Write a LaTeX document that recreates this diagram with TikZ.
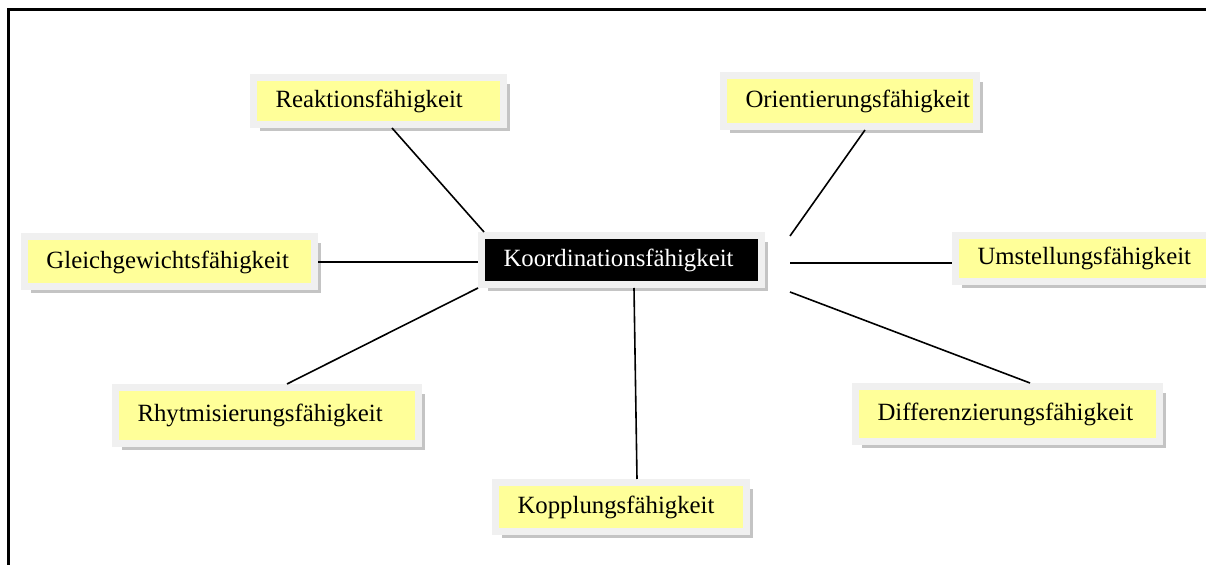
\documentclass[tikz,border=0pt]{standalone}
\usepackage{fontspec}
\setmainfont{Liberation Serif}
\usetikzlibrary{shadows, positioning}

\definecolor{boxyellow}{HTML}{FFFF99}
\definecolor{boxframe}{HTML}{F0F0F0}
\definecolor{boxshadow}{HTML}{C4C4C4}

\begin{document}
\begin{tikzpicture}[x=0.5pt, y=-0.5pt,
	skill/.style={rectangle, anchor=west, draw=boxframe, line width=3.5pt, fill=boxyellow,
		inner xsep=11pt, align=left, font=\fontsize{12.4}{14}\selectfont,
		drop shadow={shadow xshift=3.25pt, shadow yshift=-3.25pt, fill=boxshadow, opacity=1}},
	core/.style={skill, fill=black, text=white},
	link/.style={line width=0.8pt}]
	\useasboundingbox (0,0) rectangle (1206,565);
	\draw[line width=1.5pt] (8,565) -- (8,10) -- (1206,10);

	\node[core, text width=118pt, minimum height=24.5pt] 	(koord) at (478,260) {Koordinationsfähigkeit};
	\node[skill, text width=103pt, minimum height=23.5pt] 	(reak) 	at (250,101) {Reaktionsfähigkeit};
	\node[skill, text width=104.5pt, minimum height=25.5pt] (orie) 	at (720,101) {Orientierungsfähigkeit};
	\node[skill, text width=123pt, minimum height=25pt] 	(glei) 	at (21,262) {Gleichgewichtsfähigkeit};
	\node[skill, text width=109.5pt, minimum height=23pt] 	(umst) 	at (952,258.5) {Umstellungsfähigkeit};
	\node[skill, text width=129.5pt, minimum height=28pt] 	(rhyt) 	at (112,415.5) {Rhytmisierungsfähigkeit};
	\node[skill, text width=130pt, minimum height=27.5pt] 	(diff) 	at (852,414) {Differenzierungsfähigkeit};
	\node[skill, text width=103.5pt, minimum height=24.5pt] (kopp) 	at (492,507) {Kopplungsfähigkeit};

	% free ends right of the centre box
	\coordinate (hub-ne) at ([xshift=12.5pt, yshift=-2pt]koord.north east);
	\coordinate (hub-e) 	at ([xshift=12.5pt, yshift=-1.5pt]koord.east);
	\coordinate (hub-se) at ([xshift=12.5pt, yshift=-2pt]koord.south east);

	\draw[link] ([xshift=6.75pt]reak.south) -- ([xshift=3pt]koord.north west);
	\draw[link] ([xshift=7.5pt]orie.south) 	-- (hub-ne);
	\draw[link] (glei.east) 								-- (glei.east -| koord.west);
	\draw[link] (hub-e) 										-- ([yshift=-2.25pt]umst.west);
	\draw[link] ([xshift=10pt]rhyt.north) 	-- (koord.south west);
	\draw[link] (hub-se) 										-- ([xshift=11.25pt]diff.north);
	\draw[link] ([xshift=6.25pt]koord.south) -- ([xshift=8pt]kopp.north);
\end{tikzpicture}
\end{document}
